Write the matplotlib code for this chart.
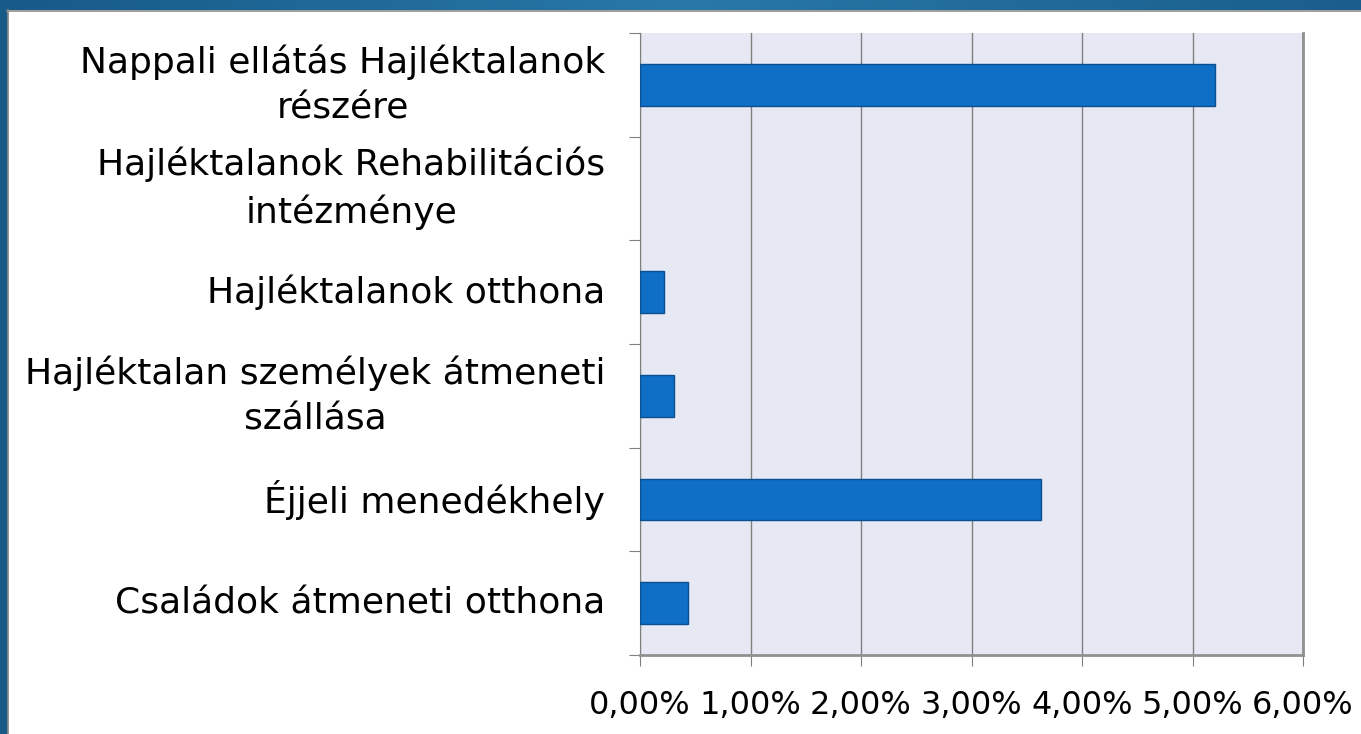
import numpy as np
import matplotlib.pyplot as plt
from matplotlib.patches import Rectangle
from matplotlib.colors import LinearSegmentedColormap

# data (bottom to top)
categories = [
    "Családok átmeneti otthona",
    "Éjjeli menedékhely",
    "Hajléktalan személyek átmeneti\nszállása",
    "Hajléktalanok otthona",
    "Hajléktalanok Rehabilitációs\nintézménye",
    "Nappali ellátás Hajléktalanok\nrészére",
]
values = [0.43, 3.63, 0.31, 0.22, 0.0, 5.20]  # percent
xticks = [0, 1, 2, 3, 4, 5, 6]
xtick_labels = ["0,00%", "1,00%", "2,00%", "3,00%", "4,00%", "5,00%", "6,00%"]

plt.rcParams['font.family'] = ['DejaVu Sans']

fig = plt.figure(figsize=(13.61, 7.34), dpi=100)

# blue frame (top and left)
grad = np.linspace(0, 1, 256).reshape(1, -1)
cmap = LinearSegmentedColormap.from_list("frame", ["#175A88", "#2878A8", "#1A5E8C"])
top_ax = fig.add_axes([0, 1 - 10 / 734, 1, 10 / 734])
top_ax.imshow(grad, aspect='auto', cmap=cmap)
top_ax.axis('off')
fig.add_artist(Rectangle((0, 0), 7 / 1361, 1, transform=fig.transFigure, color="#175A88", zorder=5))
fig.add_artist(plt.Line2D([7 / 1361, 1], [1 - 10.5 / 734] * 2, transform=fig.transFigure, color="#8C8C8C", lw=1.2, zorder=6))
fig.add_artist(plt.Line2D([7.5 / 1361] * 2, [0, 1 - 10 / 734], transform=fig.transFigure, color="#8C8C8C", lw=1.2, zorder=6))

ax = fig.add_axes([640 / 1361, 1 - 655 / 734, 663 / 1361, 622 / 734])
ax.set_facecolor("#E6E9F4")
y = np.arange(len(categories))
lws = [1 if v > 0 else 0 for v in values]
ax.barh(y, values, height=0.4, color="#0F6FC6", edgecolor="#0B4F8F", linewidth=lws, zorder=3)

ax.set_xlim(0, 6)
ax.set_ylim(-0.5, len(categories) - 0.5)
ax.set_xticks(xticks)
ax.set_xticklabels(xtick_labels, fontsize=23)
ax.grid(axis='x', color="#808080", linewidth=1, zorder=1)

ax.set_yticks(np.arange(-0.5, len(categories), 1.0))
ax.set_yticklabels([])
ax.set_yticks(y, minor=True)
ax.set_yticklabels(categories, minor=True, fontsize=26, multialignment='center', linespacing=1.45)
for lbl in ax.get_yticklabels(minor=True):
    lbl.set_verticalalignment('center')
ax.tick_params(axis='y', which='major', length=8, color="#808080")
ax.tick_params(axis='y', which='minor', length=0, pad=25)
ax.tick_params(axis='x', length=8, color="#808080", pad=17)

ax.spines["top"].set_visible(False)
ax.spines["left"].set_color("#808080")
ax.spines["bottom"].set_color("#909090")
ax.spines["bottom"].set_linewidth(2)
ax.spines["right"].set_color("#909090")
ax.spines["right"].set_linewidth(2)

fig.savefig("out.png", dpi=100)
